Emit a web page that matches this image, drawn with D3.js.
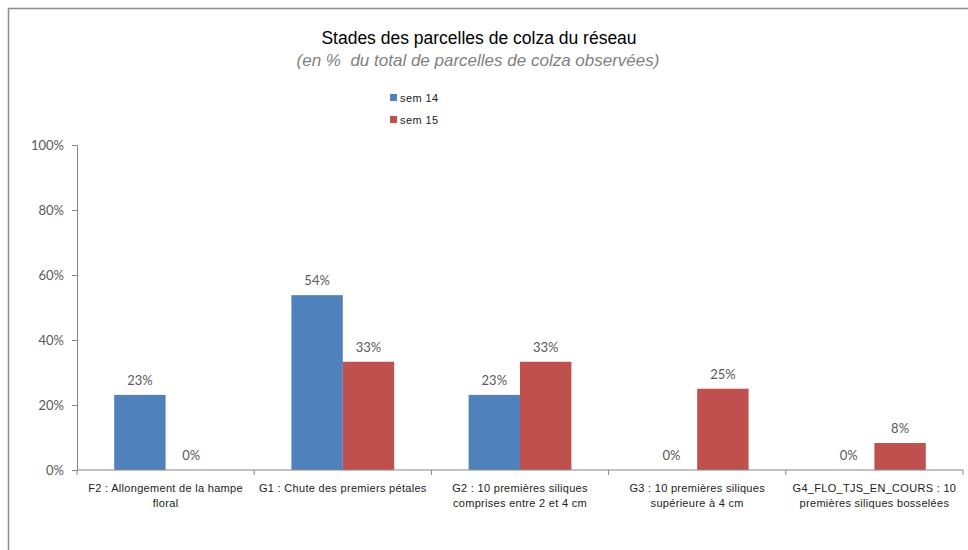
<!DOCTYPE html>
<html>
<head>
<meta charset="utf-8">
<script src="https://cdn.jsdelivr.net/npm/d3@7"></script>
<style>
  body { margin: 0; background: #fff; }
  svg { display: block; }
</style>
</head>
<body>
<svg id="chart" width="968" height="550"></svg>
<script>
// data
const categories = [
  ["F2 : Allongement de la hampe", "floral"],
  ["G1 : Chute des premiers pétales"],
  ["G2 : 10 premières siliques", "comprises entre 2 et 4 cm"],
  ["G3 : 10 premières siliques", "supérieure à 4 cm"],
  ["G4_FLO_TJS_EN_COURS : 10", "premières siliques bosselées"]
];
const seriesNames = ["sem 14", "sem 15"];
const sem14 = [23.1, 53.8, 23.1, 0, 0];
const sem15 = [0, 33.3, 33.3, 25, 8.3];
const yTicks = [0, 20, 40, 60, 80, 100];
const colors = ["#4f81bd", "#c0504d"];

const svg = d3.select("#chart");
const margin = { top: 145, left: 77, right: 5, bottom: 80 };
const width = 968 - margin.left - margin.right;
const height = 550 - margin.top - margin.bottom;

// outer frame
svg.append("rect")
  .attr("x", 8.5).attr("y", 8.5)
  .attr("width", 1000).attr("height", 1000)
  .attr("fill", "none")
  .attr("stroke", "#8c8c8c")
  .attr("stroke-width", 1.5);

// titles
svg.append("text")
  .attr("x", 479).attr("y", 44)
  .attr("text-anchor", "middle")
  .style("font-family", "Liberation Sans, Arial")
  .style("font-size", "17.5px")
  .attr("fill", "#000")
  .text("Stades des parcelles de colza du réseau");
svg.append("text")
  .attr("x", 478).attr("y", 66)
  .attr("text-anchor", "middle")
  .style("font-family", "Liberation Sans, Arial")
  .style("font-size", "17px")
  .style("font-style", "italic")
  .style("white-space", "pre")
  .attr("fill", "#7f7f7f")
  .text("(en %  du total de parcelles de colza observées)");

// legend
const legend = svg.append("g").attr("transform", "translate(390, 98)");
seriesNames.forEach((name, i) => {
  const g = legend.append("g").attr("transform", `translate(0, ${i * 22})`);
  g.append("rect").attr("x", 0).attr("y", -4).attr("width", 7).attr("height", 7).attr("fill", colors[i]);
  g.append("text")
    .attr("x", 10).attr("y", 4)
    .style("font-family", "Liberation Sans, Arial")
    .style("font-size", "11px")
    .style("letter-spacing", "0.4px")
    .attr("fill", "#222")
    .text(name);
});

const plot = svg.append("g").attr("transform", `translate(${margin.left}, ${margin.top})`);

const x0 = d3.scaleBand()
  .domain(d3.range(categories.length))
  .range([0, width])
  .paddingInner(0.42)
  .paddingOuter(0.21);
const x1 = d3.scaleBand()
  .domain([0, 1])
  .range([0, x0.bandwidth()]);
const y = d3.scaleLinear().domain([0, 100]).range([height, 0]);
const step = width / categories.length;

// y axis
const yAxis = plot.append("g")
  .call(d3.axisLeft(y).tickValues(yTicks).tickFormat(d => d + "%").tickSize(5).tickPadding(8));
yAxis.select(".domain").attr("stroke", "#868686");
yAxis.selectAll(".tick line").attr("stroke", "#868686");
yAxis.selectAll(".tick text")
  .style("font-family", "Lato, Open Sans, sans-serif")
  .style("font-size", "13px")
  .attr("fill", "#595959");

// bars
const rows = categories.map((c, i) => [sem14[i], sem15[i]]);
const groups = plot.selectAll(".grp")
  .data(rows)
  .join("g")
  .attr("class", "grp")
  .attr("transform", (d, i) => `translate(${x0(i)}, 0)`);

groups.selectAll("rect")
  .data(d => d.map((v, s) => ({ v, s })))
  .join("rect")
  .attr("x", d => x1(d.s))
  .attr("width", x1.bandwidth())
  .attr("y", d => y(d.v))
  .attr("height", d => height - y(d.v))
  .attr("fill", d => colors[d.s]);

groups.selectAll("text")
  .data(d => d.map((v, s) => ({ v, s })))
  .join("text")
  .attr("x", d => x1(d.s) + x1.bandwidth() / 2)
  .attr("y", d => y(d.v) - 10)
  .attr("text-anchor", "middle")
  .style("font-family", "Lato, Open Sans, sans-serif")
  .style("font-size", "13px")
  .attr("fill", "#595959")
  .text(d => Math.round(d.v) + "%");

// x axis line with category boundary ticks
const xa = plot.append("g").attr("transform", `translate(0, ${height})`);
xa.append("line").attr("x1", 0).attr("x2", width).attr("y1", 0).attr("y2", 0).attr("stroke", "#868686");
d3.range(categories.length + 1).forEach(i => {
  xa.append("line")
    .attr("x1", i * step).attr("x2", i * step)
    .attr("y1", 0).attr("y2", 5)
    .attr("stroke", "#868686");
});
categories.forEach((lines, i) => {
  const t = xa.append("text")
    .attr("text-anchor", "middle")
    .style("font-family", "Liberation Sans, Arial")
    .style("font-size", "11px")
    .style("letter-spacing", "0.3px")
    .attr("fill", "#222");
  lines.forEach((ln, k) => {
    t.append("tspan")
      .attr("x", x0(i) + x0.bandwidth() / 2)
      .attr("y", 22 + k * 15)
      .text(ln);
  });
});
</script>
</body>
</html>
